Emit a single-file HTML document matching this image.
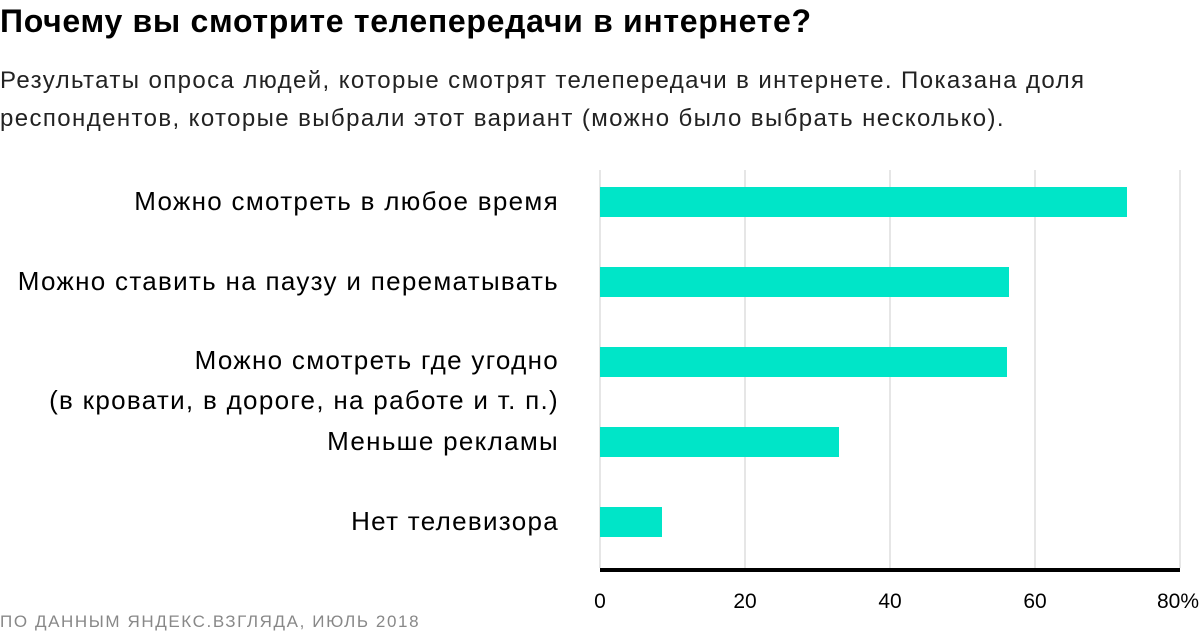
<!DOCTYPE html>
<html><head><meta charset="utf-8"><style>
body{margin:0;width:1200px;height:634px;background:#fff;font-family:"Liberation Sans",sans-serif;color:#000;position:relative;overflow:hidden}
.t{position:absolute;left:0;top:3px;font-size:32px;font-weight:bold;letter-spacing:0.7px;white-space:nowrap}
.s{position:absolute;left:0;top:62px;font-size:24px;line-height:38px;color:#222;letter-spacing:1.4px;white-space:nowrap}
.l{position:absolute;right:641px;font-size:26px;text-align:right;line-height:40px;white-space:nowrap;letter-spacing:1.3px}
.src{position:absolute;left:0;top:612px;font-size:17px;color:#888;letter-spacing:1.6px;white-space:nowrap}
.x{position:absolute;top:590px;font-size:21px;transform:translateX(-50%)}
</style></head><body>
<div class="t">Почему вы смотрите телепередачи в интернете?</div>
<div class="s">Результаты опроса людей, которые смотрят телепередачи в интернете. Показана доля<br>респондентов, которые выбрали этот вариант (можно было выбрать несколько).</div>
<svg width="1200" height="634" style="position:absolute;left:0;top:0">
<g stroke="#e6e6e6" stroke-width="2">
<line x1="600" y1="170" x2="600" y2="568"/><line x1="745" y1="170" x2="745" y2="568"/><line x1="890" y1="170" x2="890" y2="568"/><line x1="1035" y1="170" x2="1035" y2="568"/><line x1="1180" y1="170" x2="1180" y2="568"/></g>
<g fill="#00e5c8">
<rect x="600" y="187" width="527" height="30"/>
<rect x="600" y="267" width="409" height="30"/>
<rect x="600" y="347" width="407" height="30"/>
<rect x="600" y="427" width="239" height="30"/>
<rect x="600" y="507" width="62" height="30"/></g>
<rect x="600" y="568" width="580" height="4" fill="#000"/>
</svg>
<div class="l" style="top:181px">Можно смотреть в любое время</div>
<div class="l" style="top:261px">Можно ставить на паузу и перематывать</div>
<div class="l" style="top:340px">Можно смотреть где угодно<br>(в кровати, в дороге, на работе и т. п.)</div>
<div class="l" style="top:421px">Меньше рекламы</div>
<div class="l" style="top:501px">Нет телевизора</div>
<div class="x" style="left:600px">0</div>
<div class="x" style="left:745px">20</div>
<div class="x" style="left:890px">40</div>
<div class="x" style="left:1035px">60</div>
<div class="x" style="left:1178px">80%</div>
<div class="src">ПО ДАННЫМ ЯНДЕКС.ВЗГЛЯДА, ИЮЛЬ 2018</div>
</body></html>
